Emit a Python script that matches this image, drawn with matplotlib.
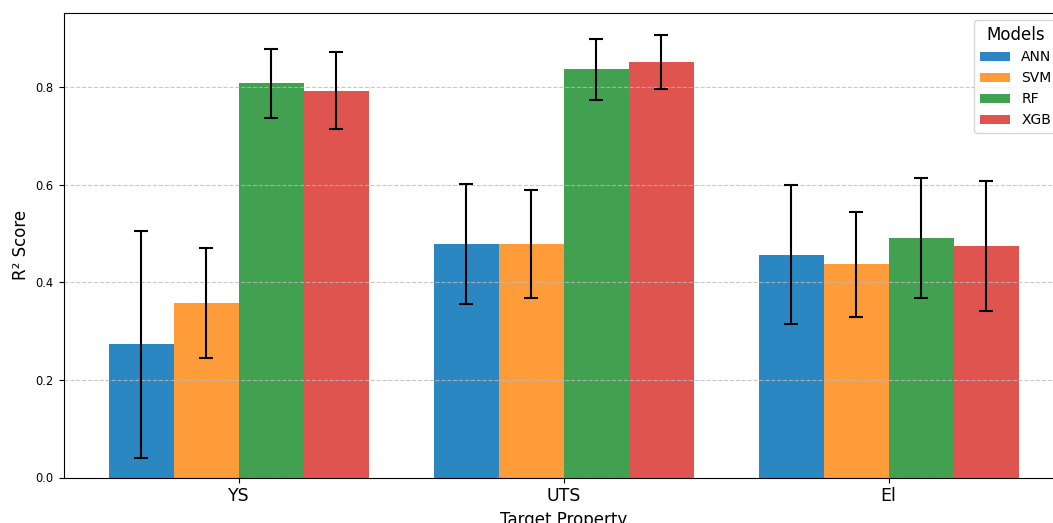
import numpy as np
import matplotlib
matplotlib.use("Agg")
import matplotlib.pyplot as plt

targets = ["YS", "UTS", "El"]
models = ["ANN", "SVM", "RF", "XGB"]
means = {
    "ANN": [0.273, 0.478, 0.457],
    "SVM": [0.358, 0.479, 0.437],
    "RF":  [0.808, 0.837, 0.492],
    "XGB": [0.793, 0.852, 0.474],
}
errs = {
    "ANN": [0.232, 0.123, 0.142],
    "SVM": [0.113, 0.111, 0.107],
    "RF":  [0.070, 0.063, 0.123],
    "XGB": [0.079, 0.055, 0.133],
}
colors = ["#2a87c1", "#fe9c3a", "#41a150", "#e0544f"]

fig = plt.figure(figsize=(10.53, 5.23), dpi=100)
ax = fig.add_axes([63.5 / 1053, 45.5 / 523, (1064 - 63.5) / 1053, (477.5 - 13) / 523])

x = np.arange(len(targets))
width = 0.2
for i, m in enumerate(models):
    ax.bar(x + (i - 1.5) * width, means[m], width, yerr=errs[m], label=m,
           color=colors[i], capsize=5,
           error_kw=dict(ecolor="black", elinewidth=1.5, capthick=1.5))

ax.set_xticks(x)
ax.set_xticklabels(targets, fontsize=12.5)
ax.tick_params(axis="y", labelsize=8.3)
ax.set_xlabel("Target Property", fontsize=12)
ax.set_ylabel("R² Score", fontsize=12)
ax.yaxis.grid(True, linestyle="--", color="#bbbbbb", alpha=0.8)
ax.legend(title="Models", loc="upper right", fontsize=10, title_fontsize=12,
          handlelength=2.2)

fig.savefig("out.png", dpi=100)
